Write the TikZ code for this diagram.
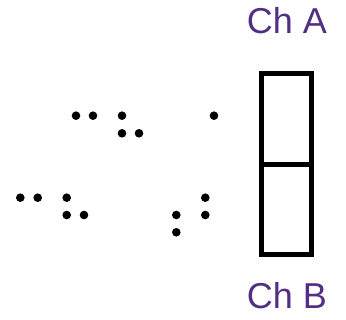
\documentclass[tikz,border=0pt]{standalone}
\usepackage{fontspec}
\setmainfont{Liberation Sans}
\definecolor{chpurple}{RGB}{82,46,132}
\begin{document}
\begin{tikzpicture}[x=1pt,y=1pt]
\useasboundingbox (0,0) rectangle (346,320);

% Channel strip
\coordinate (TL) at (261.2,246.8);
\coordinate (BR) at (311.8,65.2);
\coordinate (ML) at (261.2,155.7);
\coordinate (MR) at (311.8,155.7);
\draw[line width=5pt] (TL) rectangle (BR);
\draw[line width=4.5pt] (ML) -- (MR);

% Labels
\node[anchor=base, text=chpurple, font=\fontsize{36}{40}\selectfont] (chA) at (287,286) {Ch A};
\node[anchor=base, text=chpurple, font=\fontsize{36}{40}\selectfont] (chB) at (287,11) {Ch B};

% Dots for channel A
\foreach \x/\y in {76/204.3, 93/204.3, 122/204.3, 214/204.3, 122/186.7, 139/186.7}
  \fill (\x,\y) circle (4.3pt);

% Dots for channel B
\foreach \x/\y in {20.3/122.3, 37.7/122.3, 66.7/122.3, 205.3/122.3,
                   66.7/105, 84/105, 176.3/105, 205.3/105, 176.3/87.7}
  \fill (\x,\y) circle (4.3pt);

\end{tikzpicture}
\end{document}
